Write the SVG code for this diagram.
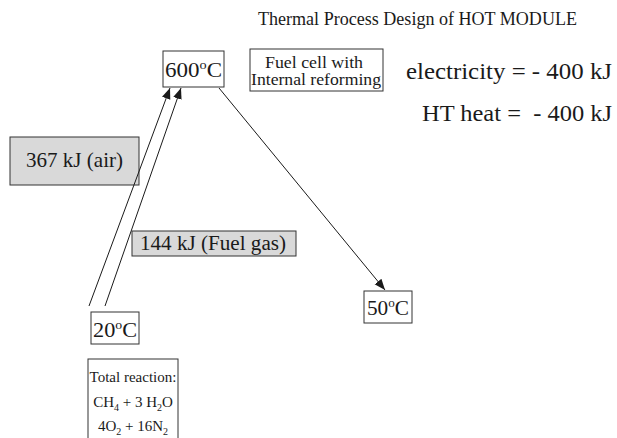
<svg xmlns="http://www.w3.org/2000/svg" width="617" height="438" viewBox="0 0 617 438">
<style>
text{font-family:"Liberation Serif","Times New Roman",serif;fill:#1a1a1a}
.box{fill:#fff;stroke:#333;stroke-width:1}
.gbox{fill:#d9d9d9;stroke:#333;stroke-width:1}
.ln{stroke:#1a1a1a;stroke-width:1;fill:none;marker-end:url(#ah)}
.rx{font-size:15px;text-anchor:middle}
.sb{font-size:10px;baseline-shift:-4px}
</style>
<defs>
<marker id="ah" viewBox="0 0 10 10" refX="10" refY="5" markerWidth="11" markerHeight="11" markerUnits="userSpaceOnUse" orient="auto">
<path d="M0,1 L10,5 L0,9 Z" fill="#1a1a1a"/>
</marker>
</defs>
<rect width="617" height="438" fill="#fff"/>
<text x="258" y="25" font-size="19" textLength="319" lengthAdjust="spacingAndGlyphs">Thermal Process Design of HOT MODULE</text>
<g id="n600">
<rect class="box" x="163" y="51" width="61" height="36"/>
<text x="165" y="77" font-size="21" textLength="57" lengthAdjust="spacingAndGlyphs">600<tspan font-size="13" dy="-8">o</tspan><tspan dy="8">C</tspan></text>
</g>
<g id="fuelcell">
<rect class="box" x="250" y="49" width="133" height="42"/>
<text x="265" y="68" font-size="16" textLength="98" lengthAdjust="spacingAndGlyphs">Fuel cell with</text>
<text x="251" y="85" font-size="16" textLength="130" lengthAdjust="spacingAndGlyphs">Internal reforming</text>
</g>
<g id="elec">
<text x="406" y="79" font-size="24" textLength="206" lengthAdjust="spacingAndGlyphs">electricity = - 400 kJ</text>
</g>
<g id="heat">
<text x="422" y="121" font-size="24" textLength="190" lengthAdjust="spacingAndGlyphs" xml:space="preserve">HT heat =  - 400 kJ</text>
</g>
<g id="air">
<rect class="gbox" x="10" y="137" width="129" height="48"/>
<text x="26" y="167" font-size="21" textLength="97" lengthAdjust="spacingAndGlyphs">367 kJ (air)</text>
</g>
<g id="fuelgas">
<rect class="gbox" x="132" y="231" width="164" height="25"/>
<text x="140" y="250" font-size="20" textLength="146" lengthAdjust="spacingAndGlyphs">144 kJ (Fuel gas)</text>
</g>
<g id="n50">
<rect class="box" x="364" y="291" width="48" height="32"/>
<text x="367" y="315" font-size="21" textLength="42" lengthAdjust="spacingAndGlyphs">50<tspan font-size="13" dy="-8">o</tspan><tspan dy="8">C</tspan></text>
</g>
<g id="n20">
<rect class="box" x="91" y="312" width="48" height="32"/>
<text x="93" y="337" font-size="21" textLength="44" lengthAdjust="spacingAndGlyphs">20<tspan font-size="13" dy="-8">o</tspan><tspan dy="8">C</tspan></text>
</g>
<g id="reaction">
<rect class="box" x="88" y="359" width="90" height="90"/>
<text class="rx" x="133" y="382">Total reaction:</text>
<text class="rx" x="133" y="407">CH<tspan class="sb">4</tspan> + 3 H<tspan class="sb">2</tspan>O</text>
<text class="rx" x="133" y="431">4O<tspan class="sb">2</tspan> + 16N<tspan class="sb">2</tspan></text>
</g>
<g id="connectors">
<line class="ln" x1="89" y1="306" x2="170" y2="88"/>
<line class="ln" x1="105" y1="306" x2="181" y2="88"/>
<line class="ln" x1="219" y1="88" x2="385" y2="290"/>
</g>
</svg>
